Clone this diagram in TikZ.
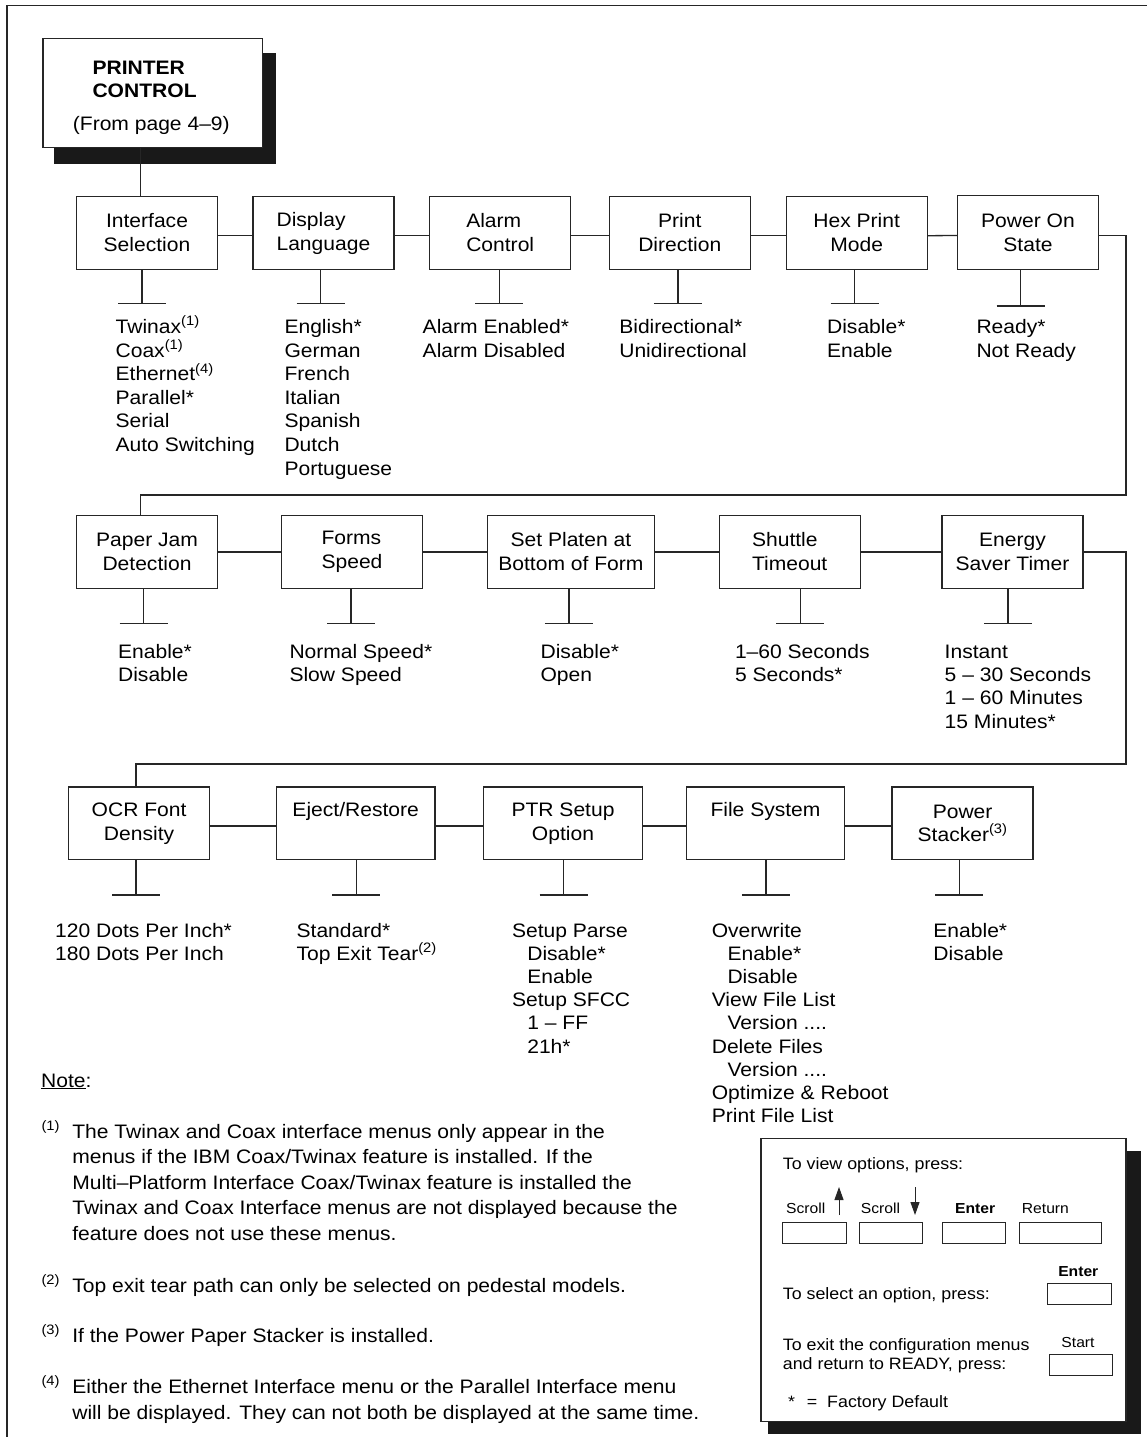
\documentclass[tikz,border=0pt]{standalone}
\usepackage{fontspec}
\setmainfont{Liberation Sans}[FakeStretch=1.08]
\usetikzlibrary{arrows.meta}
\newcommand\fourdots{....}
\newcommand\optlist[5]{%
  \foreach \itm [count=\nn] in {#5} {%
    \node[opt] (#1-\nn) at (#2,{#3+(\nn-1)*#4}) {\itm};}}
\newcommand\stubat[3]{%
  \coordinate (#1-stub) at (#2,#3);
  \draw[ln] (#1.south -| #1-stub) -- (#1-stub);
  \draw[ln] ([xshift=-24pt]#1-stub) -- ([xshift=24pt]#1-stub);}
\begin{document}
\begin{tikzpicture}[x=1pt,y=-1pt,
  ln/.style={line width=1.3pt,draw=black!85},
  menubox/.style={ln,fill=white,inner sep=0pt,minimum width=141pt,minimum height=72.5pt,align=center,font=\fontsize{19.5}{24}\selectfont},
  opt/.style={anchor=base west,inner sep=0pt,font=\fontsize{19.5}{24}\selectfont},
  txt/.style={anchor=base west,inner sep=0pt,font=\fontsize{19.5}{24}\selectfont},
  lgtxt/.style={anchor=base west,inner sep=0pt,font=\fontsize{16.5}{19}\selectfont},
  keylbl/.style={anchor=base west,inner sep=0pt,font=\fontsize{14.5}{17}\selectfont},
  keybox/.style={draw=black!85,line width=1pt,inner sep=0pt,minimum height=20.5pt},
  shadowbox/.style={fill=black!90,inner sep=0pt}
]
\useasboundingbox (0,0) rectangle (1147,1437);
\fill[white] (0,0) rectangle (1147,1437);
% frame
\coordinate (fr-a) at (7,1437); \coordinate (fr-b) at (7,5.5); \coordinate (fr-c) at (1147,5.5);
\draw[ln] (fr-a) -- (fr-b) -- (fr-c);

% title box
\node[shadowbox,minimum width=221.7pt,minimum height=111.3pt] (pcs) at (165.2,108.4) {};
\node[ln,fill=white,inner sep=0pt,minimum width=219.3pt,minimum height=109.4pt] (pc) at (152.7,93) {};
\node[txt,font=\fontsize{19.5}{24}\selectfont\bfseries] (pc-l1) at (92.3,74.5) {PRINTER};
\node[txt,font=\fontsize{19.5}{24}\selectfont\bfseries] (pc-l2) at (92.3,97.5) {CONTROL};
\node[anchor=base,inner sep=0pt,font=\fontsize{19.5}{24}\selectfont] (pc-l3) at (151.3,130.5) {(From page 4–9)};

% row 1
\node[menubox] (iface) at (147,233) {Interface\\Selection};
\node[menubox,align=left] (disp) at (323.4,233) {Display\\Language};
\node[menubox,align=left] (alarm) at (500.2,233) {Alarm\\Control};
\node[menubox] (pdir) at (679.8,233) {Print\\Direction};
\node[menubox] (hex) at (856.7,233) {Hex Print\\Mode};
\node[menubox,minimum height=74pt] (pwron) at (1028,232.8) {Power On\\State};
\coordinate (c0) at (140.3,0);
\draw[ln] (pc.south -| c0) -- (iface.north -| c0);
\draw[ln] ([yshift=-2.7pt]iface.east) -- ([yshift=-2.7pt]disp.west);
\draw[ln] ([yshift=-2.7pt]disp.east) -- ([yshift=-2.7pt]alarm.west);
\draw[ln] ([yshift=-2.7pt]alarm.east) -- ([yshift=-2.7pt]pdir.west);
\draw[ln] ([yshift=-2.7pt]pdir.east) -- ([yshift=-2.7pt]hex.west);
\draw[ln] ([yshift=-2.7pt]hex.east) -- ([yshift=-2.7pt]pwron.west);
\stubat{iface}{142.1}{303.5}
\stubat{disp}{320.7}{303.5}
\stubat{alarm}{499.3}{303.5}
\stubat{pdir}{677.9}{303.5}
\stubat{hex}{854.6}{303.5}
\stubat{pwron}{1020.5}{306}
\optlist{iface-o}{115.4}{333.5}{23.6}{{Twinax\textsuperscript{(1)}},{Coax\textsuperscript{(1)}},{Ethernet\textsuperscript{(4)}},{Parallel*},{Serial},{Auto Switching}}
\optlist{disp-o}{284.3}{333.5}{23.6}{English*,German,French,Italian,Spanish,Dutch,Portuguese}
\optlist{alarm-o}{422.5}{333.5}{23.6}{Alarm Enabled*,Alarm Disabled}
\optlist{pdir-o}{619.1}{333.5}{23.6}{Bidirectional*,Unidirectional}
\optlist{hex-o}{826.9}{333.5}{23.6}{Disable*,Enable}
\optlist{pwron-o}{976.3}{333.5}{23.6}{Ready*,Not Ready}

% row 2
\node[menubox] (jam) at (147,552) {Paper Jam\\Detection};
\node[menubox,align=left] (forms) at (352,552) {Forms\\Speed};
\node[menubox,minimum width=166.8pt] (platen) at (570.9,552) {Set Platen at\\Bottom of Form};
\node[menubox,align=left] (shuttle) at (789.7,552) {Shuttle\\Timeout};
\node[menubox] (energy) at (1012.5,552) {Energy\\Saver Timer};
\draw[ln] (jam.east) -- (forms.west);
\draw[ln] (forms.east) -- (platen.west);
\draw[ln] (platen.east) -- (shuttle.west);
\draw[ln] (shuttle.east) -- (energy.west);
\stubat{jam}{143.6}{623.3}
\stubat{forms}{351.1}{623.3}
\stubat{platen}{568.9}{623.3}
\stubat{shuttle}{800.3}{623.3}
\stubat{energy}{1008.1}{623.3}
\optlist{jam-o}{117.9}{658.5}{23.2}{Enable*,Disable}
\optlist{forms-o}{289.3}{658.5}{23.2}{Normal Speed*,Slow Speed}
\optlist{platen-o}{540.4}{658.5}{23.2}{Disable*,Open}
\optlist{shuttle-o}{734.8}{658.5}{23.2}{1–60 Seconds,5 Seconds*}
\optlist{energy-o}{944.5}{658.5}{23.2}{Instant,5 – 30 Seconds,1 – 60 Minutes,15 Minutes*}

% link row1 -> row2
\coordinate (r1) at (1126,495); \coordinate (l1) at (140.4,495);
\draw[ln] ([yshift=-3pt]pwron.east) -| (r1) -- (l1) -- (jam.north -| l1);

% row 3
\node[menubox] (ocr) at (139.1,823.3) {OCR Font\\Density};
\node[menubox,minimum width=158.6pt] (eject) at (355.7,823.3) {Eject/Restore\\\vphantom{Ag}};
\node[menubox,minimum width=158.8pt] (ptr) at (563,823.3) {PTR Setup\\Option};
\node[menubox,minimum width=158pt] (files) at (765.5,823.3) {File System\\\vphantom{Ag}};
\node[menubox] (stacker) at (962.6,823.3) {\raisebox{-3pt}{Power}\\\raisebox{-2pt}{Stacker\textsuperscript{(3)}}};
\draw[ln] ([yshift=-2.7pt]ocr.east) -- ([yshift=-2.7pt]eject.west);
\draw[ln] ([yshift=-2.7pt]eject.east) -- ([yshift=-2.7pt]ptr.west);
\draw[ln] ([yshift=-2.7pt]ptr.east) -- ([yshift=-2.7pt]files.west);
\draw[ln] ([yshift=-2.7pt]files.east) -- ([yshift=-2.7pt]stacker.west);
\stubat{ocr}{136.1}{895}
\stubat{eject}{356.4}{895}
\stubat{ptr}{563.6}{895}
\stubat{files}{765.9}{895}
\stubat{stacker}{959.4}{895}
\optlist{ocr-o}{55}{937}{23.2}{120 Dots Per Inch*,180 Dots Per Inch}
\optlist{eject-o}{296.4}{937}{23.2}{Standard*,{Top Exit Tear\textsuperscript{(2)}}}
\optlist{ptr-o}{511.8}{937}{23.2}{Setup Parse,{\hspace*{15.3pt}Disable*},{\hspace*{15.3pt}Enable},Setup SFCC,{\hspace*{15.3pt}1 – FF},{\hspace*{15.3pt}21h*}}
\optlist{files-o}{711.6}{937}{23.2}{Overwrite,{\hspace*{15.7pt}Enable*},{\hspace*{15.7pt}Disable},View File List,{\hspace*{15.7pt}Version \fourdots},Delete Files,{\hspace*{15.7pt}Version \fourdots},{Optimize \& Reboot},Print File List}
\optlist{stacker-o}{933.2}{937}{23.2}{Enable*,Disable}

% link row2 -> row3
\coordinate (r2) at (1126,764); \coordinate (l2) at (136.1,764);
\draw[ln] (energy.east) -| (r2) -- (l2) -- (ocr.north -| l2);

% notes
\node[txt] (note) at (41,1087) {\underline{Note}:};
\node[txt] (n1m) at (41.3,1138.5) {\textsuperscript{(1)}};
\optlist{n1}{72.1}{1138.5}{25.4}{{The Twinax and Coax interface menus only appear in the},{menus if the IBM Coax/Twinax feature is installed. If the},{Multi–Platform Interface Coax/Twinax feature is installed the},{Twinax and Coax Interface menus are not displayed because the},{feature does not use these menus.}}
\node[txt] (n2m) at (41.3,1292) {\textsuperscript{(2)}};
\node[txt] (n2) at (72.1,1292) {Top exit tear path can only be selected on pedestal models.};
\node[txt] (n3m) at (41.3,1342) {\textsuperscript{(3)}};
\node[txt] (n3) at (72.1,1342) {If the Power Paper Stacker is installed.};
\node[txt] (n4m) at (41.3,1393.5) {\textsuperscript{(4)}};
\optlist{n4}{72.1}{1393.5}{26}{{Either the Ethernet Interface menu or the Parallel Interface menu},{will be displayed. They can not both be displayed at the same time.}}

% legend
\node[shadowbox,minimum width=373pt,minimum height=283.6pt] (lgs) at (954.5,1292.5) {};
\node[ln,fill=white,inner sep=0pt,minimum width=365pt,minimum height=283.4pt] (lg) at (943.5,1280) {};
\node[lgtxt] (lg-view) at (782.7,1169) {To view options, press:};
\node[keylbl] (lg-s1) at (786,1213.5) {Scroll};
\node[keylbl] (lg-s2) at (860.7,1213.5) {Scroll};
\node[keylbl,font=\fontsize{14.5}{17}\selectfont\bfseries] (lg-en) at (955,1213.5) {Enter};
\node[keylbl] (lg-ret) at (1021.7,1213.5) {Return};
\coordinate (up-a) at (839,1215); \coordinate (up-b) at (839,1187);
\coordinate (dn-a) at (915,1187); \coordinate (dn-b) at (915,1215);
\draw[draw=black!85,line width=1pt,-{Triangle[width=9pt,length=13pt]}] (up-a) -- (up-b);
\draw[draw=black!85,line width=1pt,-{Triangle[width=9pt,length=13pt]}] (dn-a) -- (dn-b);
\node[keybox,minimum width=63.3pt] (k1) at (814.4,1233) {};
\node[keybox,minimum width=63.7pt] (k2) at (890.9,1233) {};
\node[keybox,minimum width=63.4pt] (k3) at (974,1233) {};
\node[keybox,minimum width=82.4pt] (k4) at (1060.5,1233) {};
\node[anchor=base,inner sep=0pt,font=\fontsize{14.5}{17}\selectfont\bfseries] (lg-en2) at (1078.3,1276) {Enter};
\node[keybox,minimum width=63.7pt] (k5) at (1079.2,1294) {};
\node[lgtxt] (lg-sel) at (782.7,1299) {To select an option, press:};
\node[lgtxt] (lg-ex1) at (782.7,1350) {To exit the configuration menus};
\node[lgtxt] (lg-ex2) at (782.7,1369) {and return to READY, press:};
\node[anchor=base,inner sep=0pt,font=\fontsize{14.5}{17}\selectfont] (lg-st) at (1078,1347) {Start};
\node[keybox,minimum width=63.3pt] (k6) at (1080.7,1365) {};
\node[lgtxt] (lg-ast) at (788,1407.5) {*};
\node[lgtxt] (lg-fd) at (806.7,1407.5) {=\ \ Factory Default};
\end{tikzpicture}
\end{document}
